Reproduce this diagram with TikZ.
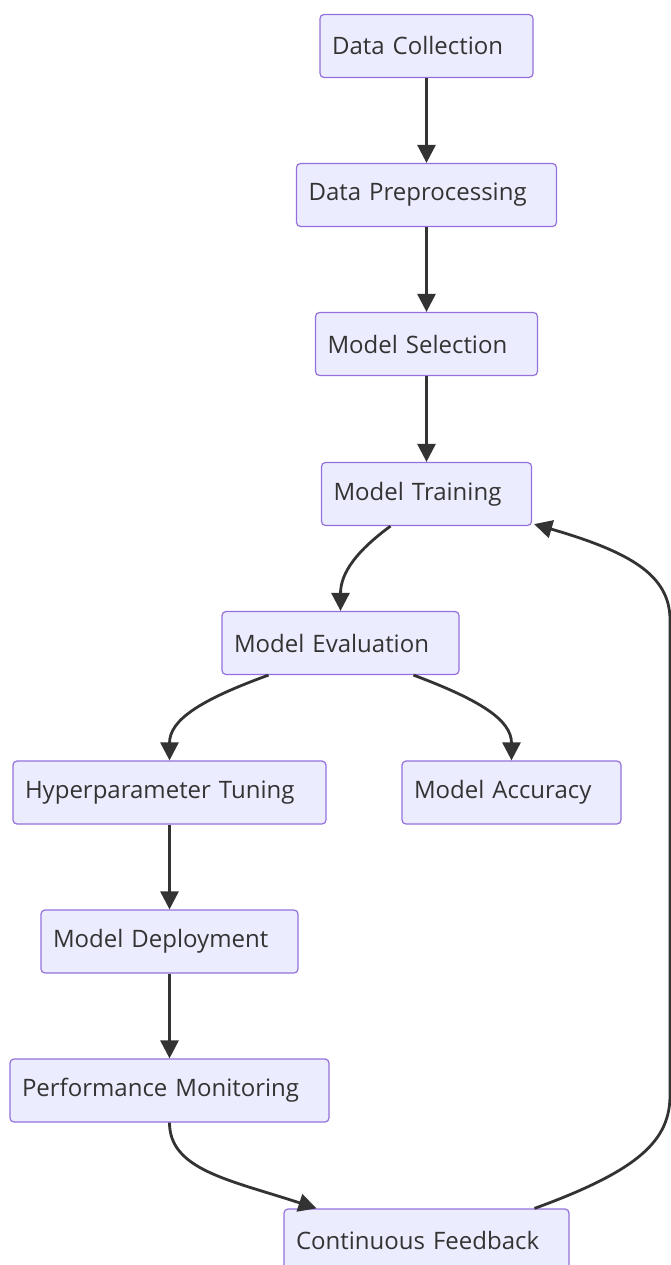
\documentclass[tikz,border=0pt]{standalone}
\usepackage{fontspec}
\setmainfont{Open Sans}
\usepackage{tikz}
\usetikzlibrary{arrows.meta}

\definecolor{boxfill}{HTML}{ECECFF}
\definecolor{boxline}{HTML}{9370DB}
\definecolor{flowline}{HTML}{333333}

\begin{document}
\begin{tikzpicture}[x=1pt,y=-1pt]
\useasboundingbox (0,0) rectangle (670,1265);
		\begin{scope}[every node/.style={draw=boxline,fill=boxfill,rounded corners=4pt,line width=1.2pt,
		              minimum height=63pt,inner xsep=12pt,align=left,text=flowline,
		              font=\fontsize{24}{28}\selectfont}]
			\node[text width=189pt] (coll) at (426.5,46) {Data Collection};
			\node[text width=236pt] (prep) at (426.5,195) {Data Preprocessing};
			\node[text width=198pt] (sel) at (426.5,344) {Model Selection};
			\node[text width=186pt] (train) at (426.5,494) {Model Training};
			\node[text width=213pt] (eval) at (340.5,643) {Model Evaluation};
			\node[text width=289pt] (tune) at (169.5,792.5) {Hyperparameter Tuning};
			\node[text width=195pt] (acc) at (511.5,792.5) {Model Accuracy};
			\node[text width=233pt] (deploy) at (169.5,941.5) {Model Deployment};
			\node[text width=295pt] (monit) at (169.5,1090.5) {Performance Monitoring};
			\node[text width=261pt] (feed) at (426.5,1240.5) {Continuous Feedback};
		\end{scope}

	\begin{scope}[>={Triangle[length=18pt,width=18pt]},line width=2.8pt,
              every edge/.style={draw=flowline,line width=2.8pt,->}]

	\path (coll) edge (prep);
	\path (prep) edge (sel);
	\path (sel) edge (train);
	\path (tune) edge (deploy);
	\path (deploy) edge (monit);

	% curved ones
	\draw[flowline,->] ([xshift=-36pt]train.south) .. controls (358,550) and (340.5,572) .. (eval.north);
	\draw[flowline,->] ([xshift=-72pt]eval.south) .. controls (200,700) and (169.5,720) .. (tune.north);
	\draw[flowline,->] ([xshift=73pt]eval.south) .. controls (480,700) and (511.5,720) .. (acc.north);
	\draw[flowline,->] (monit.south) .. controls (169.5,1170) and (230,1180) .. ([xshift=-110pt]feed.north);
	\draw[flowline,->] ([xshift=108pt]feed.north) .. controls (640,1170) and (670,1140) .. (670,1095)
	    -- (670,620) .. controls (670,575) and (630,552) .. ([xshift=2pt,yshift=2pt]train.south east);
\end{scope}
\end{tikzpicture}
\end{document}
